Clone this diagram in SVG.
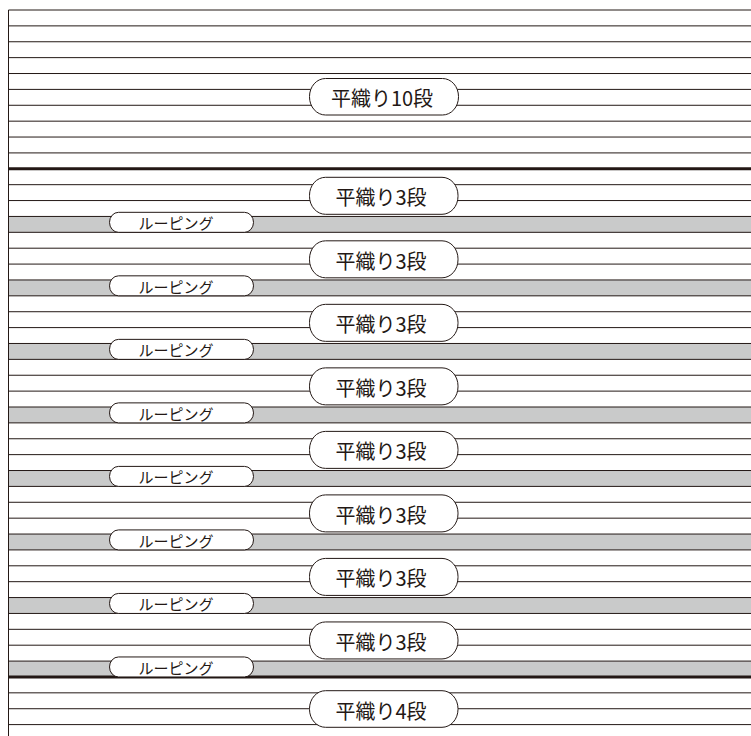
<svg xmlns="http://www.w3.org/2000/svg" width="751" height="736" viewBox="0 0 751 736">
<style>
.bg{fill:#ffffff}
.band{fill:#c9caca}
.ln{stroke:#231815;stroke-width:1;fill:none}
.thick{stroke:#231815;stroke-width:3;fill:none}
.pill{fill:#ffffff;stroke:#231815;stroke-width:1}
.big{font-family:"Noto Sans CJK JP","Noto Sans",sans-serif;font-size:20px;fill:#231815;text-anchor:middle;dominant-baseline:central}
.small{font-family:"Noto Sans CJK JP","Noto Sans",sans-serif;font-size:15px;fill:#231815;text-anchor:middle;dominant-baseline:central}
</style>
<rect class="bg" x="0" y="0" width="751" height="736"/>
<g id="bands">
<rect class="band" x="9" y="216.44" width="742" height="15.88"/>
<rect class="band" x="9" y="279.96" width="742" height="15.88"/>
<rect class="band" x="9" y="343.48" width="742" height="15.88"/>
<rect class="band" x="9" y="407" width="742" height="15.88"/>
<rect class="band" x="9" y="470.52" width="742" height="15.88"/>
<rect class="band" x="9" y="534.04" width="742" height="15.88"/>
<rect class="band" x="9" y="597.56" width="742" height="15.88"/>
<rect class="band" x="9" y="661.08" width="742" height="15.88"/>
</g>
<g id="lines">
<path class="ln" d="M8.5 10V736"/>
<path class="ln" d="M8.5 10H751M8.5 25.88H751M8.5 41.76H751M8.5 57.64H751M8.5 73.52H751M8.5 89.4H751M8.5 105.28H751M8.5 121.16H751M8.5 137.04H751M8.5 152.92H751"/>
<path class="thick" d="M8.5 168.8H751"/>
<path class="ln" d="M8.5 184.68H751M8.5 200.56H751M8.5 216.44H751M8.5 232.32H751M8.5 248.2H751M8.5 264.08H751M8.5 279.96H751M8.5 295.84H751M8.5 311.72H751M8.5 327.6H751M8.5 343.48H751M8.5 359.36H751M8.5 375.24H751M8.5 391.12H751M8.5 407H751M8.5 422.88H751M8.5 438.76H751M8.5 454.64H751M8.5 470.52H751M8.5 486.4H751M8.5 502.28H751M8.5 518.16H751M8.5 534.04H751M8.5 549.92H751M8.5 565.8H751M8.5 581.68H751M8.5 597.56H751M8.5 613.44H751M8.5 629.32H751M8.5 645.2H751M8.5 661.08H751"/>
<path class="thick" d="M8.5 676.96H751"/>
<path class="ln" d="M8.5 692.84H751M8.5 708.72H751M8.5 724.6H751"/>
</g>
<g id="plain10">
<rect class="pill" x="309.5" y="78.5" width="149" height="36.5" rx="16" ry="18"/>
<text class="big" x="382" y="97.5">平織り10段</text>
</g>
<g id="plain3-1"><rect class="pill" x="309.5" y="177.3" width="148.5" height="37" rx="16" ry="18"/><text class="big" x="381" y="196.8">平織り3段</text></g>
<g id="loop-1"><rect class="pill" x="109.5" y="212.32" width="144" height="20" rx="9" ry="10"/><text class="small" x="176" y="222.8">ルーピング</text></g>
<g id="plain3-2"><rect class="pill" x="309.5" y="240.82" width="148.5" height="37" rx="16" ry="18"/><text class="big" x="381" y="260.32">平織り3段</text></g>
<g id="loop-2"><rect class="pill" x="109.5" y="275.84" width="144" height="20" rx="9" ry="10"/><text class="small" x="176" y="286.32">ルーピング</text></g>
<g id="plain3-3"><rect class="pill" x="309.5" y="304.34" width="148.5" height="37" rx="16" ry="18"/><text class="big" x="381" y="323.84">平織り3段</text></g>
<g id="loop-3"><rect class="pill" x="109.5" y="339.36" width="144" height="20" rx="9" ry="10"/><text class="small" x="176" y="349.84">ルーピング</text></g>
<g id="plain3-4"><rect class="pill" x="309.5" y="367.86" width="148.5" height="37" rx="16" ry="18"/><text class="big" x="381" y="387.36">平織り3段</text></g>
<g id="loop-4"><rect class="pill" x="109.5" y="402.88" width="144" height="20" rx="9" ry="10"/><text class="small" x="176" y="413.36">ルーピング</text></g>
<g id="plain3-5"><rect class="pill" x="309.5" y="431.38" width="148.5" height="37" rx="16" ry="18"/><text class="big" x="381" y="450.88">平織り3段</text></g>
<g id="loop-5"><rect class="pill" x="109.5" y="466.4" width="144" height="20" rx="9" ry="10"/><text class="small" x="176" y="476.88">ルーピング</text></g>
<g id="plain3-6"><rect class="pill" x="309.5" y="494.9" width="148.5" height="37" rx="16" ry="18"/><text class="big" x="381" y="514.4">平織り3段</text></g>
<g id="loop-6"><rect class="pill" x="109.5" y="529.92" width="144" height="20" rx="9" ry="10"/><text class="small" x="176" y="540.4">ルーピング</text></g>
<g id="plain3-7"><rect class="pill" x="309.5" y="558.42" width="148.5" height="37" rx="16" ry="18"/><text class="big" x="381" y="577.92">平織り3段</text></g>
<g id="loop-7"><rect class="pill" x="109.5" y="593.44" width="144" height="20" rx="9" ry="10"/><text class="small" x="176" y="603.92">ルーピング</text></g>
<g id="plain3-8"><rect class="pill" x="309.5" y="621.94" width="148.5" height="37" rx="16" ry="18"/><text class="big" x="381" y="641.44">平織り3段</text></g>
<g id="loop-8"><rect class="pill" x="109.5" y="656.96" width="144" height="20" rx="9" ry="10"/><text class="small" x="176" y="667.44">ルーピング</text></g>
<g id="plain4"><rect class="pill" x="309.5" y="690.7" width="148.5" height="36.6" rx="16" ry="18"/><text class="big" x="381" y="710">平織り4段</text></g>
</svg>
